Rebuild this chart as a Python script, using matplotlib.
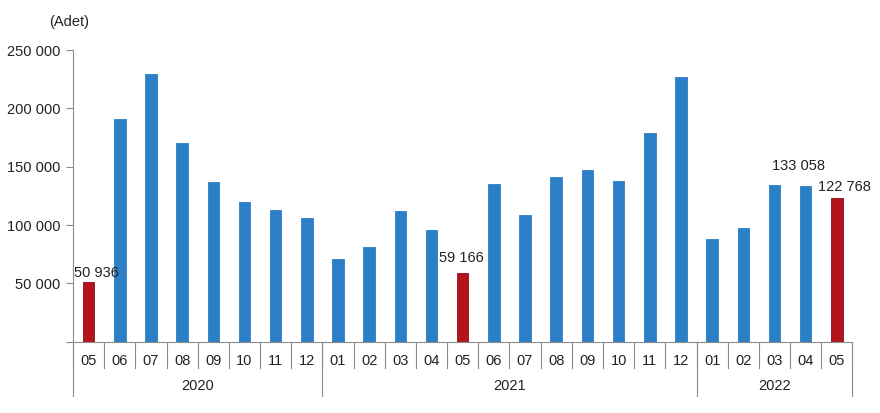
import matplotlib.pyplot as plt
from matplotlib.transforms import blended_transform_factory
from matplotlib.ticker import FuncFormatter

plt.rcParams['font.family'] = ['Liberation Sans', 'DejaVu Sans']

months = ["05", "06", "07", "08", "09", "10", "11", "12",
          "01", "02", "03", "04", "05", "06", "07", "08", "09", "10", "11", "12",
          "01", "02", "03", "04", "05"]
years = ["2020", "2021", "2022"]
year_counts = [8, 12, 5]
values = [50936, 190600, 229400, 170600, 136600, 120000, 112900, 105700,
          70600, 81200, 111700, 95500, 59166, 135400, 108300, 141200, 146900,
          137700, 178600, 226900,
          88300, 97400, 134000, 133058, 122768]
highlight = [0, 12, 24]
labelled = {0: "50 936", 12: "59 166", 23: "133 058", 24: "122 768"}
# label offsets in pixels (dx, dy above bar top)
label_offsets = {0: (8, 9), 12: (-1, 15), 23: (-7, 20), 24: (8, 11)}

blue = "#2b7fc6"
red = "#b3141c"
grey = "#8c8c8c"

fig = plt.figure(figsize=(8.8, 4.13), dpi=100)
ax = fig.add_axes([73 / 880, 1 - 341.7 / 413, (852.7 - 73.3) / 880, (341.7 - 50) / 413])

x = list(range(len(values)))
colors = [red if i in highlight else blue for i in x]
edges = ["#8a0f14" if i in highlight else blue for i in x]
ax.bar(x, values, width=0.37, color=colors, edgecolor=edges, linewidth=0.6, zorder=2)

ax.set_xlim(-0.5, len(values) - 0.5)
ax.set_ylim(0, 250000)
ax.set_yticks(range(0, 250001, 50000))
ax.yaxis.set_major_formatter(FuncFormatter(
    lambda v, p: "" if v == 0 else f"{int(v):,}".replace(",", " ")))
ax.tick_params(axis='y', length=5, color=grey, labelsize=10.5, labelcolor="#222222", pad=4)
ax.set_xticks(x)
ax.set_xticklabels(months)
ax.tick_params(axis='x', length=0, labelsize=10.5, labelcolor="#222222", pad=9)

for s in ["top", "right"]:
    ax.spines[s].set_visible(False)
ax.spines["left"].set_color(grey)
ax.spines["bottom"].set_color(grey)

trans = blended_transform_factory(ax.transData, ax.transAxes)
h = 341.7 - 50
month_depth = -(368 - 341.7) / h
year_depth = -(396 - 341.7) / h

# month separators
for i in range(len(values) + 1):
    ax.plot([i - 0.5, i - 0.5], [0, month_depth], transform=trans, color=grey,
            lw=0.8, clip_on=False)
# year separators and labels
start = 0
for yr, n in zip(years, year_counts):
    ax.plot([start - 0.5, start - 0.5], [0, year_depth], transform=trans,
            color=grey, lw=0.8, clip_on=False)
    ax.text(start + (n - 1) / 2, -(386 - 341.7) / h, yr, transform=trans,
            ha='center', va='center', fontsize=10.5, color="#222222")
    start += n
ax.plot([start - 0.5, start - 0.5], [0, year_depth], transform=trans,
        color=grey, lw=0.8, clip_on=False)

for i, txt in labelled.items():
    dx, dy = label_offsets[i]
    ax.annotate(txt, (i, values[i]), xytext=(dx * 0.72, dy * 0.72),
                textcoords='offset points', ha='center', va='center',
                fontsize=10.5, color="#222222")

fig.text(69 / 880, 1 - 22 / 413, "(Adet)", ha='center', va='center',
         fontsize=10.5, color="#222222")

fig.savefig("out.png", dpi=100)
